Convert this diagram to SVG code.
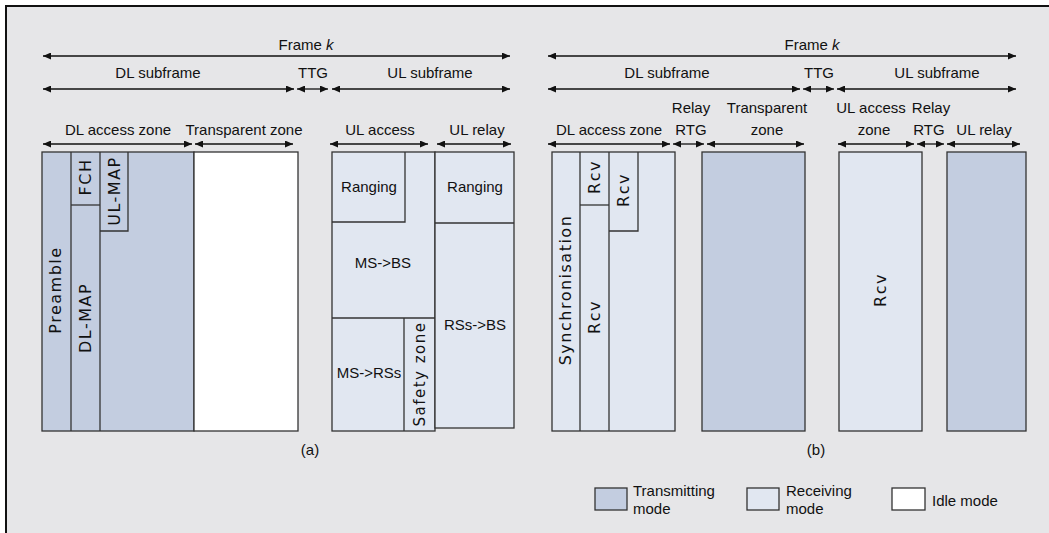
<svg xmlns="http://www.w3.org/2000/svg" width="1049" height="533" viewBox="0 0 1049 533">
<style>
.lbl{font-family:"Liberation Sans",Arial,sans-serif;font-size:15px;fill:#111;text-anchor:middle}
.vt{font-family:"DejaVu Sans",Verdana,sans-serif;font-size:16px;fill:#111;text-anchor:middle;letter-spacing:1.5px}
.tx{fill:#c3cde0;stroke:#333;stroke-width:1.3}
.rx{fill:#e1e7f1;stroke:#333;stroke-width:1.3}
.id{fill:#ffffff;stroke:#333;stroke-width:1.3}
.ln{fill:none;stroke:#333;stroke-width:1.3}
.arr{stroke:#111;stroke-width:1.3;fill:none;marker-start:url(#ah);marker-end:url(#ah)}
</style>
<defs>
<marker id="ah" viewBox="0 0 8 7" refX="8" refY="3.5" markerWidth="8" markerHeight="7" markerUnits="userSpaceOnUse" orient="auto-start-reverse">
<path d="M0,0 L8,3.5 L0,7 z" fill="#111"/>
</marker>
</defs>
<rect x="0" y="0" width="1049" height="533" fill="#ffffff"/>
<rect x="7" y="7" width="1042" height="526" fill="#e6e6e8"/>
<path d="M6,533 V6 H1049" fill="none" stroke="#111" stroke-width="2"/>

<g id="connectors">
<line class="arr" x1="43" y1="56" x2="510" y2="56"/>
<line class="arr" x1="43" y1="89" x2="294" y2="89"/>
<line class="arr" x1="297" y1="89" x2="328" y2="89"/>
<line class="arr" x1="332" y1="89" x2="510" y2="89"/>
<line class="arr" x1="43" y1="144" x2="192" y2="144"/>
<line class="arr" x1="195" y1="144" x2="293" y2="144"/>
<line class="arr" x1="330" y1="144" x2="428" y2="144"/>
<line class="arr" x1="437" y1="144" x2="511" y2="144"/>

<line class="arr" x1="548" y1="56" x2="1016" y2="56"/>
<line class="arr" x1="548" y1="89" x2="800" y2="89"/>
<line class="arr" x1="803" y1="89" x2="834" y2="89"/>
<line class="arr" x1="837" y1="89" x2="1016" y2="89"/>
<line class="arr" x1="548" y1="144" x2="670" y2="144"/>
<line class="arr" x1="673" y1="144" x2="704" y2="144"/>
<line class="arr" x1="707" y1="144" x2="804" y2="144"/>
<line class="arr" x1="838" y1="144" x2="914" y2="144"/>
<line class="arr" x1="917" y1="144" x2="944" y2="144"/>
<line class="arr" x1="947" y1="144" x2="1020" y2="144"/>
</g>

<g id="labels-a">
<text class="lbl" x="306" y="50">Frame <tspan font-style="italic">k</tspan></text>
<text class="lbl" x="158" y="78">DL subframe</text>
<text class="lbl" x="313" y="78">TTG</text>
<text class="lbl" x="430" y="78">UL subframe</text>
<text class="lbl" x="118" y="135">DL access zone</text>
<text class="lbl" x="244" y="135">Transparent zone</text>
<text class="lbl" x="380" y="135">UL access</text>
<text class="lbl" x="477" y="135">UL relay</text>
<text class="lbl" x="310" y="455">(a)</text>
</g>

<g id="labels-b">
<text class="lbl" x="812" y="50">Frame <tspan font-style="italic">k</tspan></text>
<text class="lbl" x="667" y="78">DL subframe</text>
<text class="lbl" x="819" y="78">TTG</text>
<text class="lbl" x="937" y="78">UL subframe</text>
<text class="lbl" x="609" y="135">DL access zone</text>
<text class="lbl" x="691" y="113">Relay</text>
<text class="lbl" x="691" y="135">RTG</text>
<text class="lbl" x="767" y="113">Transparent</text>
<text class="lbl" x="767" y="135">zone</text>
<text class="lbl" x="871" y="113">UL access</text>
<text class="lbl" x="874" y="135">zone</text>
<text class="lbl" x="931" y="113">Relay</text>
<text class="lbl" x="929" y="135">RTG</text>
<text class="lbl" x="984" y="135">UL relay</text>
<text class="lbl" x="816" y="455">(b)</text>
</g>

<g id="a-dl-access">
<rect class="tx" x="42" y="152" width="152" height="279"/>
<line class="ln" x1="71" y1="152" x2="71" y2="431"/>
<line class="ln" x1="100" y1="152" x2="100" y2="431"/>
<line class="ln" x1="71" y1="205" x2="100" y2="205"/>
<path class="ln" d="M100,231 H128 V152"/>
<text class="vt" transform="translate(61,290) rotate(-90)">Preamble</text>
<text class="vt" transform="translate(91,177) rotate(-90)">FCH</text>
<text class="vt" transform="translate(91,318) rotate(-90)">DL-MAP</text>
<text class="vt" transform="translate(120,191) rotate(-90)">UL-MAP</text>
</g>

<g id="a-transparent">
<rect class="id" x="194" y="152" width="104" height="279"/>
</g>

<g id="a-ul-access">
<rect class="rx" x="332" y="152" width="103" height="279"/>
<path class="ln" d="M332,222 H405 V152"/>
<line class="ln" x1="332" y1="318" x2="435" y2="318"/>
<line class="ln" x1="404" y1="318" x2="404" y2="431"/>
<text class="lbl" x="369" y="192">Ranging</text>
<text class="lbl" x="383" y="268">MS-&gt;BS</text>
<text class="lbl" x="369" y="378">MS-&gt;RSs</text>
<text class="vt" transform="translate(425,374) rotate(-90)" style="font-size:15px">Safety zone</text>
</g>

<g id="a-ul-relay">
<rect class="rx" x="435" y="152" width="79" height="276"/>
<line class="ln" x1="435" y1="223" x2="514" y2="223"/>
<text class="lbl" x="475" y="192">Ranging</text>
<text class="lbl" x="475" y="330">RSs-&gt;BS</text>
</g>

<g id="b-dl-access">
<rect class="rx" x="552" y="152" width="123" height="279"/>
<line class="ln" x1="580" y1="152" x2="580" y2="431"/>
<line class="ln" x1="609" y1="152" x2="609" y2="431"/>
<line class="ln" x1="580" y1="205" x2="609" y2="205"/>
<path class="ln" d="M609,231 H638 V152"/>
<text class="vt" transform="translate(571,290) rotate(-90)">Synchronisation</text>
<text class="vt" transform="translate(600,177) rotate(-90)">Rcv</text>
<text class="vt" transform="translate(629,190) rotate(-90)">Rcv</text>
<text class="vt" transform="translate(600,317) rotate(-90)">Rcv</text>
</g>

<g id="b-transparent">
<rect class="tx" x="702" y="152" width="103" height="279"/>
</g>

<g id="b-ul-access">
<rect class="rx" x="839" y="152" width="83" height="279"/>
<text class="vt" transform="translate(886,290) rotate(-90)">Rcv</text>
</g>

<g id="b-ul-relay">
<rect class="tx" x="947" y="152" width="79" height="279"/>
</g>

<g id="legend">
<rect class="tx" x="595" y="488" width="32" height="22"/>
<text class="lbl" x="633" y="496" style="text-anchor:start">Transmitting</text>
<text class="lbl" x="633" y="514" style="text-anchor:start">mode</text>
<rect class="rx" x="747" y="488" width="32" height="22"/>
<text class="lbl" x="786" y="496" style="text-anchor:start">Receiving</text>
<text class="lbl" x="786" y="514" style="text-anchor:start">mode</text>
<rect class="id" x="892" y="488" width="33" height="22"/>
<text class="lbl" x="932" y="506" style="text-anchor:start">Idle mode</text>
</g>
</svg>
